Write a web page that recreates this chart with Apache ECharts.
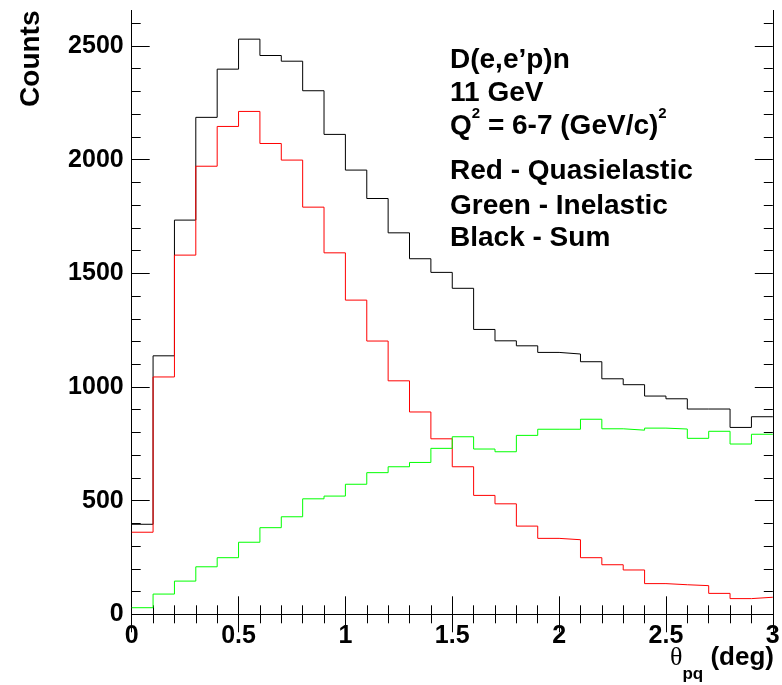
<!DOCTYPE html>
<html>
<head>
<meta charset="utf-8">
<script src="https://cdn.jsdelivr.net/npm/echarts@6/dist/echarts.min.js"></script>
<style>
html,body{margin:0;padding:0;background:#fff;}
#chart{width:782px;height:685px;}
</style>
</head>
<body>
<div id="chart"></div>
<script>
// bin edges of theta_pq (deg)
const binEdges = [0.0,0.1,0.2,0.3,0.4,0.5,0.6,0.7,0.8,0.9,1.0,1.1,1.2,1.3,1.4,1.5,1.6,1.7,1.8,1.9,2.0,2.1,2.2,2.3,2.4,2.5,2.6,2.7,2.8,2.9,3.0];
// Black - Sum
const sumCounts = [396,1137,1734,2186,2398,2530,2458,2433,2303,2111,1954,1829,1678,1564,1504,1434,1253,1203,1181,1152,1145,1111,1036,1010,960,948,903,903,822,869];
// Red - Quasielastic
const quasiCounts = [361,1044,1580,1971,2146,2212,2071,1998,1791,1590,1382,1202,1027,890,772,649,523,486,388,334,328,249,218,195,135,130,126,92,69,75];
// Green - Inelastic
const inelCounts = [29,89,146,209,249,317,381,429,508,520,572,623,649,668,730,781,727,715,787,814,814,858,816,810,819,815,774,805,749,792];
// tick values
const yMajorTicks = [0,500,1000,1500,2000,2500];
const yMinorTicks = [100,200,300,400,600,700,800,900,1100,1200,1300,1400,1600,1700,1800,1900,2100,2200,2300,2400,2600];
const xMin = 0, xMax = 3, xInterval = 0.5;
const yMin = 0, yMax = 2656;

function histPoints(vals){
  const pts = [];
  for (let i = 0; i < vals.length; i++) pts.push([binEdges[i], vals[i]]);
  pts.push([binEdges[vals.length], vals[vals.length-1]]);
  return pts;
}

const FONT = 'Liberation Sans';
const TXT = 'bold 28px "Liberation Sans"';
const chart = echarts.init(document.getElementById('chart'), null, {renderer:'canvas'});

const axisLine = {show:true, lineStyle:{color:'#000', width:1}};
function yAx(position, ticks, len, labels){
  return {
    type:'value', position: position, min:yMin, max:yMax,
    axisLine: axisLine,
    axisTick:{show:true, inside:true, length:len, customValues:ticks, lineStyle:{color:'#000', width:1}},
    axisLabel: labels ? {show:true, customValues:ticks, margin:8, color:'#000', fontFamily:FONT, fontWeight:'bold', fontSize:25,
                         formatter:function(v){return String(v);}} : {show:false},
    splitLine:{show:false}
  };
}

chart.setOption({
  animation:false,
  backgroundColor:'#fff',
  grid:{left:131.7, right:9.2, top:10.5, bottom:70.7, containLabel:false, outerBoundsMode:'none'},
  xAxis:[
    {
      type:'value', position:'bottom', min:xMin, max:xMax, interval:xInterval,
      axisLine: axisLine,
      axisTick:{show:true, inside:true, length:18, lineStyle:{color:'#000', width:1}},
      minorTick:{show:true, splitNumber:5, length:9, lineStyle:{color:'#000', width:1}},
      axisLabel:{show:true, margin:9, color:'#000', fontFamily:FONT, fontWeight:'bold', fontSize:25,
                 formatter:function(v){return String(v);}},
      splitLine:{show:false}
    },
    {
      type:'value', position:'top', min:xMin, max:xMax, interval:xInterval,
      axisLine: axisLine,
      axisTick:{show:true, inside:true, length:18, lineStyle:{color:'#000', width:1}},
      minorTick:{show:true, splitNumber:5, length:9, lineStyle:{color:'#000', width:1}},
      axisLabel:{show:false}, splitLine:{show:false}
    }
  ],
  yAxis:[
    yAx('left', yMajorTicks, 18, true),
    yAx('left', yMinorTicks, 9, false),
    yAx('right', yMajorTicks, 18, false),
    yAx('right', yMinorTicks, 9, false)
  ],
  series:[
    {type:'line', name:'Sum', step:'end', symbol:'none', data:histPoints(sumCounts),
     lineStyle:{color:'#000000', width:1}, itemStyle:{color:'#000'}, xAxisIndex:0, yAxisIndex:0, z:3},
    {type:'line', name:'Quasielastic', step:'end', symbol:'none', data:histPoints(quasiCounts),
     lineStyle:{color:'#ff0000', width:1}, itemStyle:{color:'#ff0000'}, xAxisIndex:0, yAxisIndex:0, z:4},
    {type:'line', name:'Inelastic', step:'end', symbol:'none', data:histPoints(inelCounts),
     lineStyle:{color:'#00ff00', width:1}, itemStyle:{color:'#00ff00'}, xAxisIndex:0, yAxisIndex:0, z:5}
  ],
  graphic:[
    {type:'text', rotation:Math.PI/2, x:31.5, y:10.5, z:10,
     style:{text:'Counts', align:'right', verticalAlign:'middle', fill:'#000', font:'bold 28px "Liberation Sans"'}},
    {type:'text', x:774, y:658, z:10, style:{
      text:'{th|θ}{sub|pq}{b| (deg)}', align:'right', verticalAlign:'middle',
      rich:{
        th:{fontFamily:'Liberation Serif', fontSize:26, fill:'#000', lineHeight:50},
        sub:{fontFamily:FONT, fontWeight:'bold', fontSize:17, fill:'#000', lineHeight:14, verticalAlign:'bottom'},
        b:{fontFamily:FONT, fontWeight:'bold', fontSize:26, fill:'#000', lineHeight:50}
      }}},
    {type:'text', x:450, y:60.5, z:10, style:{text:"D(e,e’p)n", verticalAlign:'middle', fill:'#000', font:TXT}},
    {type:'text', x:450, y:93.5, z:10, style:{text:'11 GeV', verticalAlign:'middle', fill:'#000', font:TXT}},
    {type:'text', x:450, y:126, z:10, style:{
      text:'{b|Q}{s|2}{b| = 6-7 (GeV/c)}{s|2}', verticalAlign:'middle',
      rich:{
        b:{fontFamily:FONT, fontWeight:'bold', fontSize:28, fill:'#000', lineHeight:40},
        s:{fontFamily:FONT, fontWeight:'bold', fontSize:15, fill:'#000', lineHeight:14, verticalAlign:'top'}
      }}},
    {type:'text', x:450, y:171, z:10, style:{text:'Red - Quasielastic', verticalAlign:'middle', fill:'#000', font:TXT}},
    {type:'text', x:450, y:206, z:10, style:{text:'Green - Inelastic', verticalAlign:'middle', fill:'#000', font:TXT}},
    {type:'text', x:450, y:238.7, z:10, style:{text:'Black - Sum', verticalAlign:'middle', fill:'#000', font:TXT}}
  ]
});
</script>
</body>
</html>
